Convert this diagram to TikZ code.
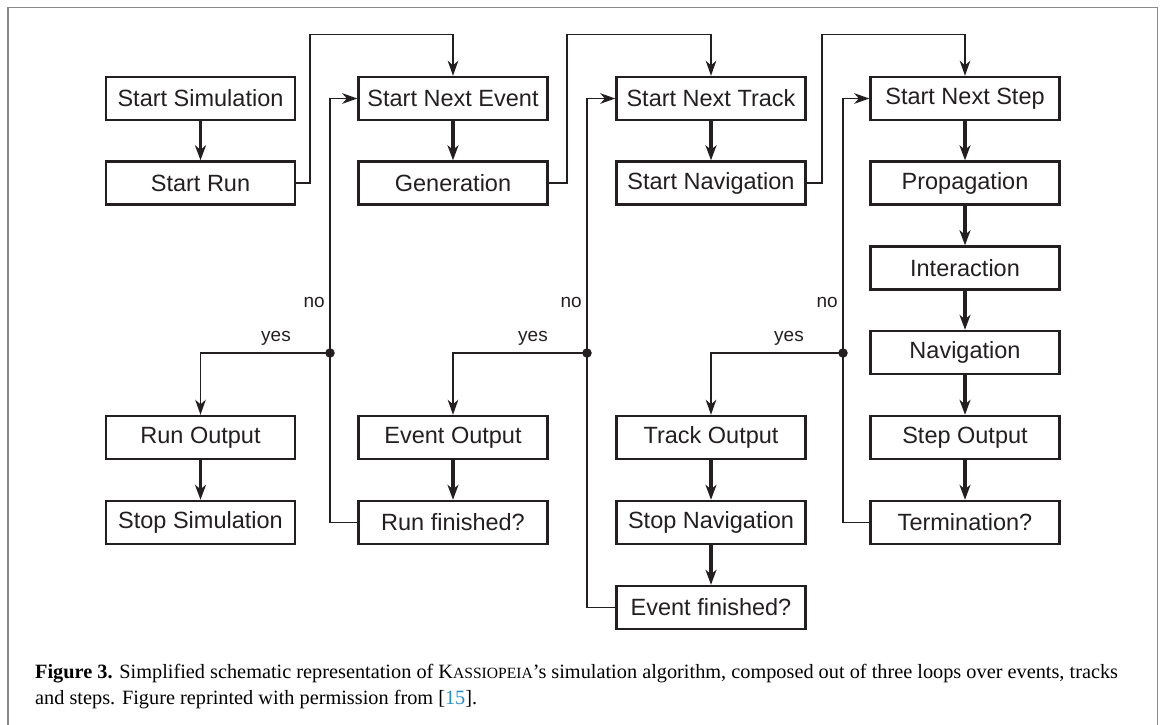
\documentclass[tikz,border=0pt]{standalone}
\usepackage{fontspec}
\setmainfont{Liberation Sans}
\newfontfamily\capfont{Liberation Serif}
\usetikzlibrary{arrows.meta}
\definecolor{ink}{HTML}{231F20}
\definecolor{framegray}{HTML}{8A8A8A}
\definecolor{linkblue}{HTML}{2B8CC4}
\newcommand{\kscap}{K{\fontsize{15.6}{18}\selectfont ASSIOPEIA}}
\begin{document}
\begin{tikzpicture}[x=1pt,y=-1pt,
  box/.style={draw=ink, line width=2.4pt, minimum width=189pt, minimum height=43pt,
              inner sep=0pt, text=ink, font=\fontsize{23.5}{28}\selectfont},
  flow/.style={draw=ink, line width=3.2pt, -{Stealth[length=15pt,width=11pt,inset=4.5pt]}},
  carrow/.style={draw=ink, line width=1.9pt, -{Stealth[length=15pt,width=10.5pt,inset=4.5pt]}},
  lbl/.style={text=ink, inner sep=0pt, font=\fontsize{19}{22}\selectfont},
  jdot/.style={circle, fill=ink, inner sep=0pt, minimum size=9.5pt},
  caption/.style={inner sep=0pt, anchor=base west, text=black, font=\capfont\fontsize{20.3}{24}\selectfont}
]
\useasboundingbox (0,0) rectangle (1163,724);
% frame
\draw[framegray, line width=1.5pt] (8,730) -- (8,7.5) -- (1157.5,7.5) -- (1157.5,730);

% column 1
\node[box] (ss)  at (200.5,98.5) {Start Simulation};
\node[box] (sr)  at (200.5,183)  {Start Run};
\node[box] (ro)  at (200.5,437.5) {Run Output};
\node[box] (sts) at (200.5,522.5) {Stop Simulation};
% column 2
\node[box] (sne) at (453,98.5) {Start Next Event};
\node[box] (gen) at (453,183)  {Generation};
\node[box] (eo)  at (453,437.5) {Event Output};
\node[box] (rf)  at (453,522.5) {Run finished?};
% column 3
\node[box] (snt)  at (711,98.5) {Start Next Track};
\node[box] (snav) at (711,183)  {Start Navigation};
\node[box] (to)   at (711,437.5) {Track Output};
\node[box] (stn)  at (711,522.5) {Stop Navigation};
\node[box] (ef)   at (711,607.5) {Event finished?};
% column 4
\node[box] (snst) at (965,98.5) {Start Next Step};
\node[box] (prop) at (965,183)  {Propagation};
\node[box] (int)  at (965,268)  {Interaction};
\node[box] (nav)  at (965,352.5) {Navigation};
\node[box] (so)   at (965,437.5) {Step Output};
\node[box] (term) at (965,522.5) {Termination?};

% main flow arrows
\draw[flow] (ss) -- (sr);
\draw[flow] (ro) -- (sts);
\draw[flow] (sne) -- (gen);
\draw[flow] (eo) -- (rf);
\draw[flow] (snt) -- (snav);
\draw[flow] (to) -- (stn);
\draw[flow] (stn) -- (ef);
\draw[flow] (snst) -- (prop);
\draw[flow] (prop) -- (int);
\draw[flow] (int) -- (nav);
\draw[flow] (nav) -- (so);
\draw[flow] (so) -- (term);

% loop entries
\coordinate (t1) at (310,34.5);
\coordinate (t2) at (567,34.5);
\coordinate (t3) at (822,34.5);
\draw[carrow] (sr.east) -| (t1) -| (sne.north);
\draw[carrow] (gen.east) -| (t2) -| (snt.north);
\draw[carrow] (snav.east) -| (t3) -| (snst.north);

% junctions
\coordinate (j1) at (330,353);
\coordinate (j2) at (587,353);
\coordinate (j3) at (843,353);
\draw[carrow] (rf.west) -| (j1) |- (sne.west);
\draw[carrow] (ef.west) -| (j2) |- (snt.west);
\draw[carrow] (term.west) -| (j3) |- (snst.west);
\draw[carrow] (j1) -| (ro.north);
\draw[carrow] (j2) -| (eo.north);
\draw[carrow] (j3) -| (to.north);
\node[jdot] (d1) at (j1) {};
\node[jdot] (d2) at (j2) {};
\node[jdot] (d3) at (j3) {};

% labels
\node[lbl, anchor=east] (no1) at ([shift={(-5,-51)}]j1) {no};
\node[lbl, anchor=east] (no2) at ([shift={(-5,-51)}]j2) {no};
\node[lbl, anchor=east] (no3) at ([shift={(-5,-51)}]j3) {no};
\node[lbl, anchor=east] (y1) at ([shift={(-39,-15)}]j1) {yes};
\node[lbl, anchor=east] (y2) at ([shift={(-39,-15)}]j2) {yes};
\node[lbl, anchor=east] (y3) at ([shift={(-39,-15)}]j3) {yes};

% caption
\node[caption] (cap1) at (35,678) {\textbf{Figure 3.} Simplified schematic representation of \kscap’s simulation algorithm, composed out of three loops over events, tracks};
\node[caption] (cap2) at (35,704) {and steps. Figure reprinted with permission from [\textcolor{linkblue}{15}].};
\end{tikzpicture}
\end{document}
